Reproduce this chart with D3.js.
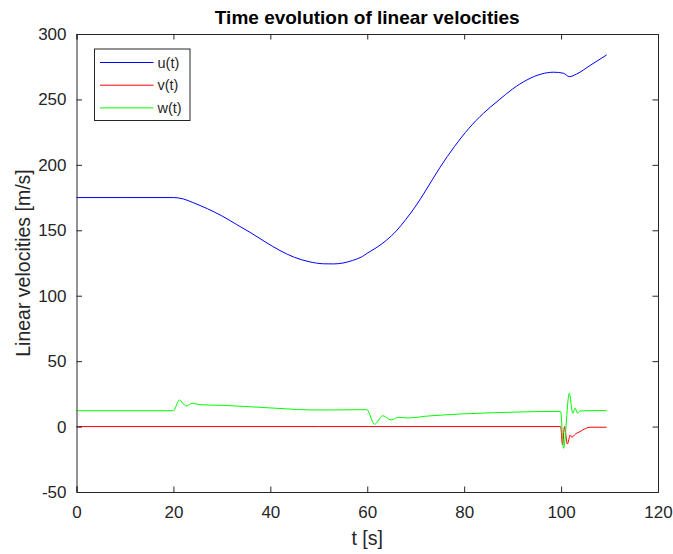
<!DOCTYPE html>
<html>
<head>
<meta charset="utf-8">
<script src="https://cdn.jsdelivr.net/npm/d3@7"></script>
<style>
  body { margin: 0; background: #fff; }
  text { font-family: "Liberation Sans", Arial, sans-serif; fill: #262626; }
</style>
</head>
<body>
<svg width="673" height="554"></svg>
<script>
// data
var tU = [0, 10, 20, 22, 24, 27, 30, 33, 36, 39, 42, 45, 48, 51, 53, 55, 57, 59, 60, 62, 64, 66, 68, 70, 72, 75, 78, 81, 84, 87, 90, 93, 96, 98.5, 100.5, 101.7, 103.2, 106, 109.4];
var uVals = [175, 175, 175, 174, 171.2, 166.5, 161, 154.5, 148, 141, 134.5, 129.3, 126, 124.4, 124.3, 125, 127, 130, 132.5, 137, 142.5, 149.5, 158.5, 168.5, 180, 198, 214, 228, 239.5, 249, 258, 265, 269.5, 270.8, 270, 267.4, 269.4, 276, 284];

var tV = [0, 50, 99.9, 100.3, 100.7, 101.3, 101.9, 102.2, 103, 103.9, 105, 106, 109.4];
var vVals = [0, 0, 0, -14, 0, -13.3, -6.4, -8.2, -5.5, -3.9, -1.5, -0.5, -0.5];

var tW = [0, 10, 20, 21.2, 22.6, 23.9, 25.5, 30, 37.9, 43, 48.2, 53, 58.5, 59.9, 61.5, 63.2, 64.9, 66.4, 68.2, 73, 79.2, 86, 93, 99.9, 100.5, 101.7, 102.4, 102.9, 103.4, 103.9, 106, 109.4];
var wVals = [12.1, 12.1, 12.1, 20.3, 15.7, 17.8, 16.7, 16.2, 14.7, 13.6, 12.7, 12.7, 12.9, 12.9, 1.8, 8.3, 5.0, 7.1, 6.6, 8.2, 9.6, 10.6, 11.3, 11.6, -16.6, 25.4, 10.2, 14, 10.2, 11.9, 12.2, 12.2];

var series = [
  {name: 'u(t)', t: tU, v: uVals, color: '#0000ff'},
  {name: 'v(t)', t: tV, v: vVals, color: '#ff0000'},
  {name: 'w(t)', t: tW, v: wVals, color: '#00ff00'}
];

var xTicks = [0, 20, 40, 60, 80, 100, 120];
var yTicks = [-50, 0, 50, 100, 150, 200, 250, 300];

var svg = d3.select('svg');
var padding = {t: 34, r: 15, b: 62, l: 76.5};
var svgWidth = +svg.attr('width');
var svgHeight = +svg.attr('height');
var chartWidth = svgWidth - padding.l - padding.r;
var chartHeight = svgHeight - padding.t - padding.b;

var chartG = svg.append('g')
    .attr('transform', 'translate(' + [padding.l, padding.t] + ')');

var xScale = d3.scaleLinear().domain([0, 120]).range([0, chartWidth]);
var yScale = d3.scaleLinear().domain([-50, 300]).range([chartHeight, 0]);

var line = d3.line()
    .x(function(p) { return xScale(p[0]); })
    .y(function(p) { return yScale(p[1]); })
    .curve(d3.curveMonotoneX);

chartG.selectAll('.series')
    .data(series)
    .enter().append('path')
    .attr('class', 'series')
    .attr('fill', 'none')
    .attr('stroke', function(d) { return d.color; })
    .attr('stroke-width', 1)
    .attr('d', function(d) { return line(d.t.map(function(t, i) { return [t, d.v[i]]; })); });

// axes, MATLAB style: ticks inside, box
var tickLen = 5.5;
var plain = function(d) { return String(d); };
var xAxisB = d3.axisBottom(xScale).tickValues(xTicks).tickSize(-tickLen).tickPadding(14).tickFormat(plain);
var xAxisT = d3.axisTop(xScale).tickValues(xTicks).tickSize(-tickLen).tickFormat('');
var yAxisL = d3.axisLeft(yScale).tickValues(yTicks).tickSize(-tickLen).tickPadding(10).tickFormat(plain);
var yAxisR = d3.axisRight(yScale).tickValues(yTicks).tickSize(-tickLen).tickFormat('');

function styleAxis(g) {
  g.selectAll('path, line').attr('stroke', '#262626').attr('stroke-width', 1);
  g.selectAll('text').attr('font-size', 17).attr('fill', '#262626')
    .style('font-family', '"Liberation Sans", Arial, sans-serif');
}

chartG.append('g').attr('transform', 'translate(0,' + chartHeight + ')').call(xAxisB).call(styleAxis);
chartG.append('g').call(xAxisT).call(styleAxis);
chartG.append('g').call(yAxisL).call(styleAxis);
chartG.append('g').attr('transform', 'translate(' + chartWidth + ',0)').call(yAxisR).call(styleAxis);

// title and labels
svg.append('text')
    .attr('x', padding.l + chartWidth / 2)
    .attr('y', 24)
    .attr('text-anchor', 'middle')
    .attr('font-size', 19)
    .attr('font-weight', 'bold')
    .style('fill', '#000')
    .text('Time evolution of linear velocities');

svg.append('text')
    .attr('x', padding.l + chartWidth / 2)
    .attr('y', 545)
    .attr('text-anchor', 'middle')
    .attr('font-size', 19.5)
    .text('t [s]');

svg.append('text')
    .attr('transform', 'translate(30,' + (padding.t + chartHeight / 2) + ') rotate(-90)')
    .attr('text-anchor', 'middle')
    .attr('font-size', 19.5)
    .text('Linear velocities [m/s]');

// legend
var legendG = chartG.append('g').attr('transform', 'translate(18,15)');
legendG.append('rect')
    .attr('width', 95.5).attr('height', 71.5)
    .attr('fill', '#fff').attr('stroke', '#262626').attr('stroke-width', 1);
var item = legendG.selectAll('.item')
    .data(series)
    .enter().append('g')
    .attr('class', 'item')
    .attr('transform', function(d, i) { return 'translate(0,' + (13.5 + i * 22.7) + ')'; });
item.append('line')
    .attr('x1', 5.5).attr('x2', 59)
    .attr('stroke', function(d) { return d.color; })
    .attr('stroke-width', 1);
item.append('text')
    .attr('x', 63)
    .attr('dy', '0.35em')
    .attr('font-size', 14.5)
    .text(function(d) { return d.name; });
</script>
</body>
</html>
